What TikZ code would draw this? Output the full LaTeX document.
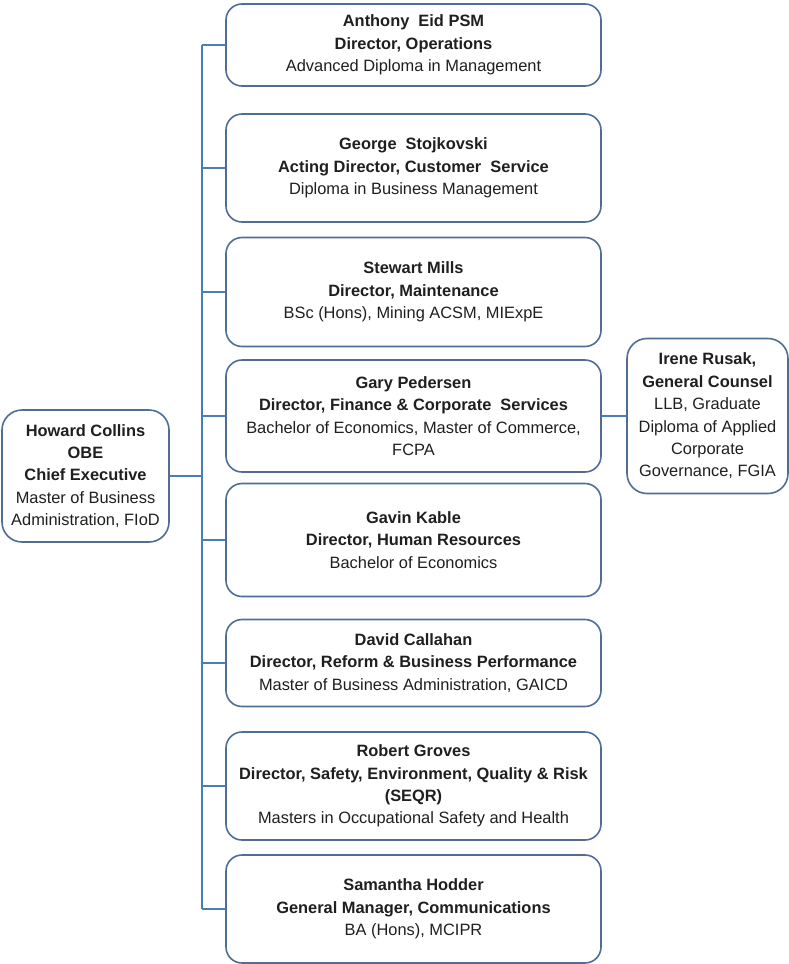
\documentclass[tikz,border=0pt]{standalone}
\usepackage{fontspec}
\setmainfont{Liberation Sans}
\definecolor{boxline}{HTML}{4F6D95}
\definecolor{conline}{HTML}{4A7EBB}
\begin{document}
\begin{tikzpicture}[x=1pt,y=-1pt,
  person/.style={draw=boxline, line width=1.6pt, rounded corners=16pt, fill=white,
    align=center, inner sep=0pt, font=\fontsize{16.4}{22.4}\selectfont, text=black!88},
  wide/.style={person, minimum width=375pt},
  conn/.style={draw=conline, line width=1.5pt}]
\useasboundingbox (0,0) rectangle (789,964);
\node[person, minimum width=167pt, minimum height=132pt, rounded corners=20pt] (ceo) at (85.5,476)
  {\textbf{Howard Collins}\\\textbf{OBE}\\\textbf{Chief Executive}\\Master of Business\\Administration, FIoD};
\node[wide, minimum height=82pt] (b1) at (413.5,45)
  {\textbf{Anthony\ \ Eid PSM}\\\textbf{Director, Operations}\\Advanced Diploma in Management};
\node[wide, minimum height=108pt] (b2) at (413.5,168)
  {\textbf{George\ \ Stojkovski}\\\textbf{Acting Director, Customer\ \ Service}\\Diploma in Business Management};
\node[wide, minimum height=109pt] (b3) at (413.5,292)
  {\textbf{Stewart Mills}\\\textbf{Director, Maintenance}\\BSc (Hons), Mining ACSM, MIExpE};
\node[wide, minimum height=112pt] (b4) at (413.5,416)
  {\textbf{Gary Pedersen}\\\textbf{Director, Finance \& Corporate\ \ Services}\\Bachelor of Economics, Master of Commerce,\\FCPA};
\node[wide, minimum height=113pt] (b5) at (413.5,540)
  {\textbf{Gavin Kable}\\\textbf{Director, Human Resources}\\Bachelor of Economics};
\node[wide, minimum height=87pt] (b6) at (413.5,663)
  {\textbf{David Callahan}\\\textbf{Director, Reform \& Business Performance}\\Master of Business Administration, GAICD};
\node[wide, minimum height=108pt] (b7) at (413.5,786)
  {\textbf{Robert Groves}\\\textbf{Director, Safety, Environment, Quality \& Risk}\\\textbf{(SEQR)}\\Masters in Occupational Safety and Health};
\node[wide, minimum height=108pt] (b8) at (413.5,909)
  {\textbf{Samantha Hodder}\\\textbf{General Manager, Communications}\\BA (Hons), MCIPR};
\node[person, minimum width=161pt, minimum height=155pt, rounded corners=20pt] (ir) at (707.5,416)
  {\textbf{Irene Rusak,}\\\textbf{General Counsel}\\LLB, Graduate\\Diploma of Applied\\Corporate\\Governance, FGIA};
\coordinate (top) at (202,45);
\coordinate (bot) at (202,909);
\draw[conn] (top) -- (bot);
\draw[conn] (ceo.east) -- (ceo.east -| top);
\foreach \b in {b1,b2,b3,b4,b5,b6,b7,b8}
  \draw[conn] (\b.west) -- (\b.west -| top);
\draw[conn] (b4.east) -- (b4.east -| ir.west);
\end{tikzpicture}
\end{document}
